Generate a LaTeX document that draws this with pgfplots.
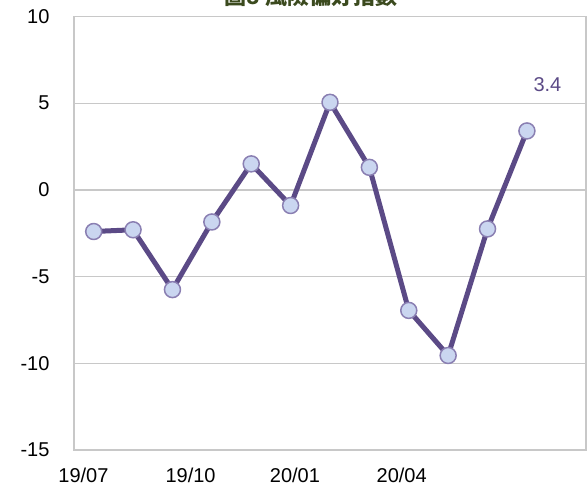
\documentclass[border=0pt]{standalone}
\usepackage{pgfplots}
\pgfplotsset{compat=1.18}
\usepackage{fontspec}
\setmainfont{Liberation Sans}
\newfontfamily\cjk{Noto Sans CJK TC}
\definecolor{lineC}{HTML}{5B4A86}
\definecolor{markF}{HTML}{CAD6F0}
\definecolor{markD}{HTML}{8A7FB2}
\definecolor{gridC}{HTML}{C8C8C8}
\definecolor{titleC}{HTML}{3B4A1E}
\pgfplotstableread{
x y
0 -2.4
1 -2.3
2 -5.75
3 -1.85
4 1.5
5 -0.9
6 5.05
7 1.3
8 -6.95
9 -9.55
10 -2.25
11 3.4
}\riskdata
\begin{document}
\begin{tikzpicture}[x=1pt,y=1pt]
\begin{axis}[
  at={(0,0)}, anchor=south west,
  scale only axis,
  width=512pt, height=433.5pt,
  xmin=-0.5, xmax=12.5,
  ymin=-15, ymax=10,
  ytick={-15,-10,-5,0,5,10},
  xtick={-0.26,2.46,5.11,7.82},
  xticklabels={19/07,19/10,20/01,20/04},
  major tick length=0pt,
  axis line style={draw=gridC, line width=1.5pt},
  ymajorgrids,
  grid style={draw=gridC, line width=1.3pt},
  tick label style={font=\fontsize{20}{24}\selectfont, text=black},
  /pgf/number format/assume math mode=true,
  yticklabel style={anchor=east, xshift=-21pt},
  xticklabel style={anchor=north, yshift=-14pt},
  clip=false,
]
\addplot[color=lineC, line width=5pt, line join=round,
  mark=*, mark size=8pt,
  mark options={fill=markF, draw=markD, line width=1.5pt}] table[x=x,y=y] {\riskdata};
\node[text=lineC, font=\fontsize{20}{24}\selectfont] at (axis cs:11.52,6.1) {3.4};
\end{axis}
\node[anchor=base, text=titleC, font=\cjk\bfseries\fontsize{22}{26}\selectfont] at (237pt,445pt) {圖8\ 風險偏好指數};
\pgfresetboundingbox
\useasboundingbox (-74pt,-39pt) rectangle (513pt,450pt);
\end{tikzpicture}
\end{document}
